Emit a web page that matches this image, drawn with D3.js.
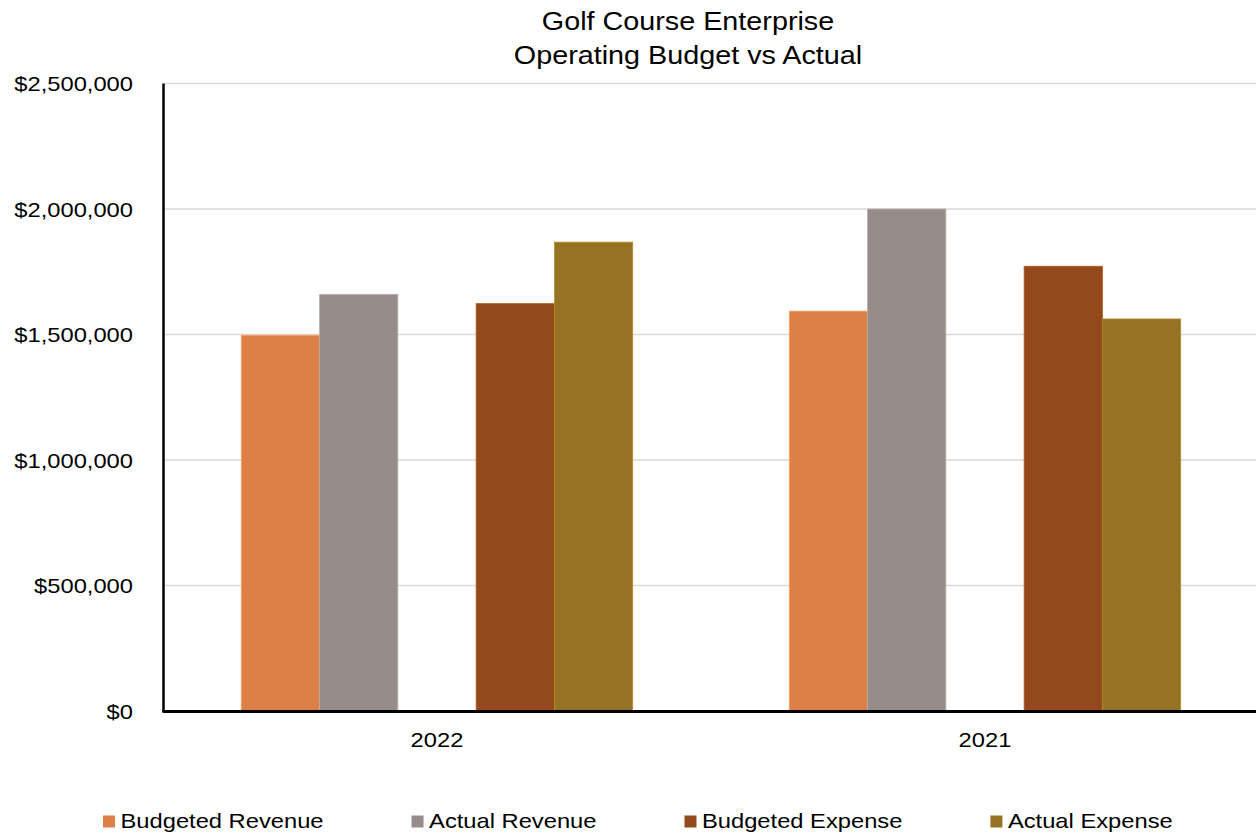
<!DOCTYPE html>
<html>
<head>
<meta charset="utf-8">
<script src="https://cdn.jsdelivr.net/npm/d3@7"></script>
<style>
  html, body { margin: 0; padding: 0; background: #fff; }
  svg { display: block; font-family: "Liberation Sans", Arial, sans-serif; }
</style>
</head>
<body>
<svg id="chart" width="1256" height="834"></svg>
<script>
// Fiscal years shown, left to right
const years = ["2022", "2021"];

// Series values per year
const budgetedRevenue = [1497000, 1593000];
const actualRevenue   = [1660000, 2000000];
const budgetedExpense = [1623000, 1772000];
const actualExpense   = [1868000, 1562000];

const seriesNames = ["Budgeted Revenue", "Actual Revenue", "Budgeted Expense", "Actual Expense"];
const seriesColors = ["#dd8048", "#968d8a", "#93491b", "#957224"];

// Slot order within each year; the blank slot separates revenue from expense
const slotOrder = ["Budgeted Revenue", "Actual Revenue", "", "Budgeted Expense", "Actual Expense"];

const yTicks = [0, 500000, 1000000, 1500000, 2000000, 2500000];

const titleLines = ["Golf Course Enterprise", "Operating Budget vs Actual"];

const seriesValues = {
  "Budgeted Revenue": budgetedRevenue,
  "Actual Revenue": actualRevenue,
  "Budgeted Expense": budgetedExpense,
  "Actual Expense": actualExpense
};

const svg = d3.select("#chart");
const plot = { left: 164, right: 1256, top: 83.5, bottom: 711 };
const stretch = 1.13; // glyphs are drawn slightly wide

// the category bands run a little past the right edge of the canvas
const x0 = d3.scaleBand().domain(years).range([163, 1259]).padding(0);
const x1 = d3.scaleBand().domain(slotOrder).range([0, x0.bandwidth()]).paddingInner(0).paddingOuter(1);
const y = d3.scaleLinear().domain([0, 2500000]).range([plot.bottom, plot.top]);
const color = d3.scaleOrdinal().domain(seriesNames).range(seriesColors);

const fmt = v => "$" + d3.format(",")(v);

// helper: text that is horizontally widened around its anchor point
function wideText(g, x, yPos, str, size, anchor, k) {
  return g.append("text")
    .attr("transform", `translate(${x},${yPos}) scale(${k},1)`)
    .attr("text-anchor", anchor)
    .attr("font-size", size)
    .attr("fill", "#000")
    .text(str);
}

// horizontal gridlines
svg.append("g").selectAll("line")
  .data(yTicks.filter(d => d > 0))
  .join("line")
  .attr("x1", plot.left).attr("x2", plot.right)
  .attr("y1", d => y(d)).attr("y2", d => y(d))
  .attr("stroke", "#d9d9d9").attr("stroke-width", 1.5);

// y tick labels
const yLab = svg.append("g");
yTicks.forEach(t => wideText(yLab, 133, y(t) + 7.5, fmt(t), 21, "end", stretch));

// bars
const rows = years.map((yr, i) => ({ year: yr, vals: seriesNames.map(s => ({ key: s, value: seriesValues[s][i] })) }));
svg.append("g").selectAll("g")
  .data(rows)
  .join("g")
  .attr("transform", d => `translate(${x0(d.year)},0)`)
  .selectAll("rect")
  .data(d => d.vals)
  .join("rect")
  .attr("x", d => x1(d.key))
  .attr("width", x1.bandwidth())
  .attr("y", d => y(d.value))
  .attr("height", d => y(0) - y(d.value))
  .attr("fill", d => color(d.key))
  .attr("stroke", d => d3.color(color(d.key)).brighter(0.6))
  .attr("stroke-width", 0.8);

// axes lines
svg.append("line")
  .attr("x1", plot.left - 0.5).attr("x2", plot.left - 0.5)
  .attr("y1", plot.top).attr("y2", plot.bottom + 1)
  .attr("stroke", "#000").attr("stroke-width", 2.5);
svg.append("line")
  .attr("x1", plot.left - 1.5).attr("x2", plot.right)
  .attr("y1", plot.bottom + 0.5).attr("y2", plot.bottom + 0.5)
  .attr("stroke", "#000").attr("stroke-width", 2.8);

// category labels
const xLab = svg.append("g");
years.forEach(yr => wideText(xLab, x0(yr) + x0.bandwidth() / 2, 747, yr, 21, "middle", stretch));

// title
const tg = svg.append("g");
titleLines.forEach((line, i) => wideText(tg, 688, 30 + i * 33.5, line, 25, "middle", 1.15));

// legend
const lg = svg.append("g");
let lx = 103;
seriesNames.forEach(name => {
  lg.append("rect")
    .attr("x", lx).attr("y", 815.5)
    .attr("width", 12).attr("height", 12)
    .attr("fill", color(name));
  const t = wideText(lg, lx + 17.5, 828, name, 21, "start", stretch);
  const w = t.node().getComputedTextLength() * stretch;
  lx += 17.5 + w + 88;
});
</script>
</body>
</html>
